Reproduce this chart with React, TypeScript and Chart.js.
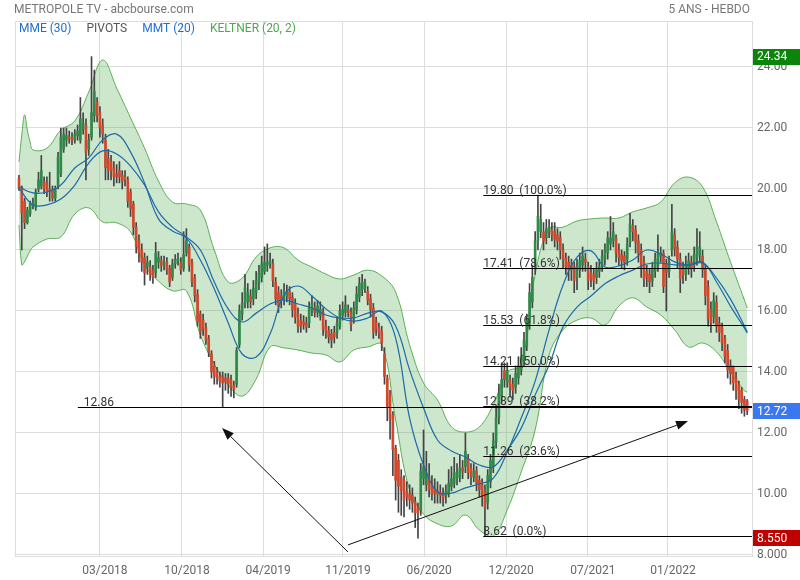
import React, { useEffect, useRef } from 'react';
import { Chart, registerables } from 'chart.js';

Chart.register(...registerables);

// ---------- weekly candles (index 0 = first week shown) ----------
const opens = [
  20.35, 20.05, 19.6, 18.9, 19.2, 19.45, 19.4, 20.0, 20.1, 20.25,
  20.2, 20.0, 19.97, 19.7, 20.1, 20.5, 21.3, 21.6, 21.7, 21.7,
  21.6, 21.75, 21.6, 21.95, 22.1, 21.3, 21.7, 22.4, 22.85, 22.5,
  22.1, 21.6, 21.0, 20.9, 20.7, 20.5, 20.6, 20.45, 20.4, 20.3,
  19.9, 19.5, 18.75, 18.3, 18.0, 17.75, 17.45, 17.45, 17.35, 17.25,
  17.6, 17.65, 17.5, 17.6, 17.4, 17.1, 17.55, 17.65, 17.6, 17.4,
  17.9, 18.1, 17.6, 17.1, 16.55, 15.9, 15.7, 15.45, 15.1, 14.6,
  14.2, 14.0, 13.85, 13.84, 13.8, 13.8, 13.75, 13.55, 13.6, 14.9,
  15.9, 16.25, 16.3, 16.5, 16.4, 16.6, 16.9, 17.1, 17.3, 17.5,
  17.55, 17.55, 16.95, 16.6, 16.5, 16.4, 16.5, 16.65, 16.45, 16.25,
  15.9, 15.7, 15.65, 15.6, 15.6, 16.0, 16.1, 15.95, 15.85, 15.95,
  15.5, 15.35, 15.25, 15.3, 15.3, 15.5, 15.85, 15.95, 16.05, 15.95,
  15.75, 16.05, 16.45, 16.7, 16.75, 16.65, 16.4, 16.1, 15.65, 15.45,
  15.35, 14.6, 13.8, 13.3, 12.6, 11.5, 11.1, 10.55, 10.45, 10.1,
  10.0, 9.95, 9.75, 9.55, 9.45, 10.5, 10.3, 10.55, 10.35, 10.2,
  10.1, 10.05, 10.0, 9.95, 10.0, 10.25, 10.35, 10.5, 10.55, 10.85,
  10.9, 11.15, 10.85, 10.55, 10.75, 10.45, 10.3, 10.1, 9.7, 10.4,
  10.9, 11.7, 12.5, 13.2, 14.05, 13.65, 13.75, 13.6, 13.5, 13.8,
  14.05, 14.4, 14.85, 15.6, 16.3, 17.45, 18.3, 18.6, 18.6, 18.4,
  18.6, 18.65, 18.6, 18.5, 18.4, 18.0, 17.75, 17.6, 17.5, 17.45,
  17.1, 17.35, 17.5, 17.7, 17.45, 17.25, 17.2, 17.1, 17.3, 17.45,
  17.7, 17.9, 18.2, 18.3, 18.4, 18.0, 17.85, 17.8, 17.7, 18.25,
  18.8, 18.65, 18.3, 18.0, 17.6, 17.3, 17.2, 17.0, 17.3, 17.5,
  17.8, 17.9, 17.55, 17.3, 18.0, 18.5, 18.1, 17.7, 17.35, 17.2,
  17.4, 17.6, 17.5, 17.75, 17.85, 17.8, 17.4, 16.8, 16.05, 15.8,
  16.3, 15.6, 15.45, 15.1, 14.7, 14.2, 14.15, 13.8, 13.6, 13.4,
  13.1, 13.05,
];
const closes = [
  20.05, 19.2, 18.9, 19.3, 19.5, 19.55, 19.9, 20.3, 20.6, 20.0,
  19.9, 19.95, 19.7, 20.0, 21.05, 21.7, 21.8, 21.75, 21.65, 21.6,
  21.8, 21.9, 22.3, 22.15, 21.2, 21.6, 22.5, 23.2, 22.4, 22.0,
  21.8, 20.7, 20.6, 20.6, 20.4, 20.4, 20.4, 20.25, 20.3, 19.6,
  19.35, 18.75, 18.1, 17.9, 17.6, 17.25, 17.6, 17.2, 17.1, 17.9,
  17.75, 17.5, 17.6, 17.35, 16.95, 17.55, 17.7, 17.7, 17.35, 17.85,
  18.3, 17.5, 16.95, 16.5, 15.65, 15.3, 15.4, 15.05, 14.65, 14.0,
  13.85, 13.8, 13.7, 13.64, 13.67, 13.62, 13.5, 13.45, 14.7, 16.0,
  16.25, 16.75, 16.6, 16.3, 16.75, 17.0, 17.25, 17.55, 17.6, 17.6,
  17.65, 17.0, 16.4, 16.15, 16.35, 16.65, 16.6, 16.4, 16.05, 15.8,
  15.5, 15.5, 15.55, 15.47, 16.1, 16.25, 15.95, 16.15, 16.05, 15.4,
  15.3, 15.15, 15.05, 15.15, 15.6, 16.0, 16.05, 16.2, 15.95, 15.55,
  16.1, 16.55, 16.9, 16.95, 16.9, 16.35, 16.05, 15.3, 15.4, 15.3,
  14.95, 13.85, 12.85, 12.45, 11.45, 10.45, 10.25, 10.1, 9.8, 9.9,
  9.8, 9.7, 9.38, 9.38, 10.75, 10.9, 10.7, 10.15, 10.0, 10.0,
  10.0, 9.95, 9.85, 10.1, 10.35, 10.5, 10.7, 10.7, 10.85, 10.75,
  11.4, 10.7, 10.55, 10.75, 10.35, 10.15, 9.9, 9.55, 10.6, 11.1,
  11.75, 12.5, 13.3, 13.75, 13.75, 14.05, 13.5, 13.4, 13.95, 14.2,
  14.5, 15.05, 15.7, 16.6, 17.1, 18.3, 19.1, 19.0, 18.3, 18.7,
  18.75, 18.5, 18.35, 18.3, 18.0, 17.7, 17.45, 17.35, 17.35, 17.0,
  17.45, 17.65, 17.8, 17.6, 17.0, 17.05, 17.0, 17.35, 17.45, 17.8,
  18.0, 18.4, 18.4, 18.6, 17.9, 17.75, 17.65, 17.6, 18.2, 18.85,
  18.6, 18.25, 17.9, 17.45, 17.05, 17.1, 16.95, 17.35, 17.7, 17.9,
  17.9, 16.8, 17.25, 17.6, 18.6, 18.05, 17.7, 17.05, 17.2, 17.5,
  17.65, 17.4, 17.85, 18.1, 18.1, 17.35, 16.5, 15.75, 15.6, 16.35,
  15.5, 15.3, 14.95, 14.5, 14.07, 13.95, 13.65, 13.4, 13.1, 13.0,
  12.75, 12.72,
];
const highs = [
  20.45, 20.1, 19.7, 19.4, 19.6, 19.7, 20.0, 20.55, 21.1, 20.4,
  20.4, 20.55, 20.1, 20.1, 21.2, 22.0, 22.0, 22.0, 21.9, 21.85,
  21.95, 22.1, 23.0, 22.5, 22.3, 21.8, 24.34, 23.9, 23.0, 22.7,
  22.3, 21.8, 21.3, 21.1, 20.9, 20.8, 20.9, 20.6, 20.6, 20.4,
  20.0, 19.6, 18.9, 18.5, 18.2, 17.9, 17.8, 17.65, 17.5, 18.25,
  17.95, 17.8, 17.8, 17.75, 17.5, 17.7, 17.85, 17.9, 17.75, 18.6,
  18.7, 18.2, 17.7, 17.2, 16.7, 16.0, 15.9, 15.6, 15.2, 14.7,
  14.35, 14.15, 14.0, 14.0, 13.95, 13.95, 13.9, 13.7, 14.8, 16.2,
  16.6, 17.2, 16.9, 16.7, 17.0, 17.3, 17.5, 17.8, 18.1, 18.2,
  17.9, 17.7, 17.1, 16.8, 16.7, 16.9, 16.85, 16.8, 16.6, 16.4,
  16.1, 15.9, 15.85, 15.8, 16.3, 16.5, 16.3, 16.35, 16.3, 16.1,
  15.7, 15.5, 15.4, 15.5, 15.8, 16.2, 16.3, 16.5, 16.2, 16.1,
  16.3, 16.8, 17.1, 17.2, 17.05, 16.8, 16.55, 16.25, 15.8, 15.6,
  15.5, 14.8, 13.9, 13.4, 12.7, 11.6, 11.3, 10.8, 10.6, 10.4,
  10.3, 10.2, 9.9, 9.7, 11.0, 12.1, 11.4, 11.0, 10.6, 10.5,
  10.4, 10.3, 10.2, 10.3, 10.8, 10.9, 11.2, 11.0, 11.3, 11.1,
  12.0, 11.3, 11.0, 11.0, 10.9, 10.6, 10.5, 10.3, 10.8, 11.3,
  12.0, 12.9, 13.6, 14.3, 14.3, 14.3, 13.9, 13.8, 14.2, 14.5,
  14.8, 15.3, 15.9, 16.9, 17.5, 18.6, 19.8, 19.5, 18.9, 19.0,
  19.0, 18.9, 18.9, 18.7, 18.6, 18.2, 17.9, 17.8, 17.7, 17.6,
  17.7, 17.9, 18.1, 17.9, 17.6, 17.5, 17.4, 17.6, 17.7, 18.0,
  18.2, 18.6, 19.1, 18.9, 18.5, 18.2, 18.0, 17.95, 18.4, 19.2,
  19.0, 18.8, 18.5, 18.2, 17.8, 17.5, 17.4, 17.6, 17.9, 18.5,
  18.1, 18.0, 17.7, 17.8, 19.5, 18.7, 18.3, 17.9, 17.6, 17.8,
  17.9, 17.8, 18.1, 18.7, 18.6, 18.0, 17.5, 17.0, 16.3, 16.6,
  16.5, 15.8, 15.6, 15.2, 14.9, 14.4, 14.2, 14.0, 13.7, 13.5,
  13.2, 13.1,
];
const lows = [
  19.95, 18.0, 18.7, 18.85, 19.1, 19.35, 19.3, 19.9, 20.0, 19.85,
  19.75, 19.6, 19.6, 19.6, 20.0, 20.4, 21.2, 21.4, 21.5, 21.45,
  21.5, 21.6, 21.5, 21.8, 20.3, 21.1, 21.6, 22.2, 22.2, 21.7,
  21.5, 20.3, 20.3, 20.3, 20.1, 20.2, 20.2, 20.0, 20.1, 19.4,
  19.1, 18.5, 17.9, 17.6, 17.3, 16.85, 17.2, 17.0, 16.9, 17.1,
  17.4, 17.3, 17.35, 17.2, 16.8, 17.0, 17.4, 17.5, 17.2, 17.3,
  17.8, 17.3, 16.8, 16.3, 15.5, 15.1, 15.2, 14.9, 14.5, 13.8,
  13.6, 13.6, 13.5, 12.86, 13.4, 13.3, 13.2, 13.15, 13.5, 14.8,
  15.7, 16.1, 16.1, 16.1, 16.2, 16.4, 16.7, 16.95, 17.2, 17.3,
  17.4, 16.8, 16.2, 15.95, 16.1, 16.2, 16.3, 16.2, 15.8, 15.6,
  15.3, 15.3, 15.4, 15.3, 15.45, 15.85, 15.8, 15.8, 15.7, 15.2,
  15.1, 14.95, 14.8, 14.95, 15.1, 15.4, 15.7, 15.8, 15.8, 15.35,
  15.6, 15.9, 16.3, 16.5, 16.6, 16.2, 15.8, 15.1, 15.2, 15.1,
  14.7, 13.6, 12.4, 11.8, 10.6, 9.8, 9.4, 9.3, 9.25, 9.6,
  9.5, 9.4, 8.9, 8.55, 9.3, 10.3, 10.1, 9.9, 9.8, 9.7,
  9.7, 9.7, 9.6, 9.7, 9.9, 10.1, 10.2, 10.3, 10.4, 10.5,
  10.7, 10.5, 10.3, 10.4, 10.1, 9.9, 9.6, 8.62, 9.5, 10.2,
  10.7, 11.5, 12.3, 13.0, 13.5, 13.5, 13.2, 13.1, 13.3, 13.6,
  13.9, 14.2, 14.7, 15.4, 16.1, 17.2, 18.0, 18.4, 18.0, 18.2,
  18.4, 18.3, 18.1, 18.0, 17.7, 17.4, 17.2, 17.0, 17.0, 16.6,
  16.7, 17.1, 17.3, 17.3, 16.7, 16.8, 16.7, 16.9, 17.1, 17.3,
  17.5, 17.7, 18.0, 18.1, 17.6, 17.5, 17.4, 17.35, 17.5, 18.1,
  18.3, 17.9, 17.6, 17.1, 16.8, 16.8, 16.6, 16.8, 17.1, 17.3,
  17.6, 16.6, 16.0, 17.1, 17.8, 17.8, 17.4, 16.6, 16.9, 17.0,
  17.2, 17.1, 17.3, 17.5, 17.6, 17.1, 16.2, 15.5, 15.3, 15.6,
  15.3, 15.0, 14.7, 14.3, 13.8, 13.6, 13.4, 13.1, 12.8, 12.65,
  12.55, 12.6,
];

// ---------- axes ----------
const xTickPositions = [29, 58.4, 87.5, 116.1, 145.2, 174.6, 203.9, 232.6];
const xTickLabels = ['03/2018', '10/2018', '04/2019', '11/2019', '06/2020', '12/2020', '07/2021', '01/2022'];
const yTickValues = [8, 10, 12, 14, 16, 18, 20, 22, 24];

// ---------- Keltner (20, 2) channel, read at these week indices ----------
const keltnerIdx = [
  0, 1, 2, 3, 4, 5, 10, 15, 20, 25, 30, 35, 40, 45, 50, 55, 60, 65, 70, 75,
  80, 85, 90, 95, 100, 105, 110, 115, 120, 125, 130, 135, 140, 145, 150, 155, 160, 165, 170, 175,
  180, 185, 190, 195, 200, 205, 210, 215, 220, 225, 230, 235, 240, 245, 250, 255, 260, 261,
];
const keltnerUpper = [
  20.89, 21.77, 22.43, 21.93, 21.54, 21.28, 21.34, 21.93, 22.23, 23.18, 24.23, 23.31, 22.33, 21.34, 20.26, 19.57, 19.51, 19.31, 18.0, 16.95,
  17.08, 17.77, 18.07, 18.07, 17.67, 17.44, 17.21, 17.05, 17.18, 17.34, 17.15, 16.62, 14.89, 13.64, 13.08, 12.2, 12.03, 12.2, 12.92, 14.0,
  14.23, 17.2, 18.69, 18.75, 18.95, 19.02, 19.05, 19.05, 19.25, 19.38, 19.57, 20.2, 20.39, 20.07, 18.92, 17.61, 16.36, 16.1,
];
const keltnerLower = [
  18.82, 17.51, 17.61, 17.8, 17.97, 18.1, 18.36, 18.43, 19.18, 19.38, 18.92, 18.89, 18.59, 17.51, 16.98, 16.66, 16.66, 15.21, 14.26, 13.57,
  13.21, 13.77, 14.82, 14.79, 14.72, 14.62, 14.56, 14.33, 14.72, 14.82, 14.89, 12.43, 10.13, 9.34, 9.02, 8.95, 9.31, 8.82, 8.62, 9.48,
  10.72, 12.1, 14.56, 15.38, 15.7, 15.77, 15.54, 16.16, 16.43, 16.13, 15.87, 15.38, 14.82, 14.95, 14.66, 14.0, 13.38, 13.34,
];

// ---------- moving averages, read at these week indices ----------
const maIdx = [
  0, 5, 10, 15, 20, 25, 30, 35, 40, 45, 50, 55, 60, 65, 70, 75, 80, 85, 90, 95,
  100, 105, 110, 115, 120, 125, 130, 135, 140, 145, 150, 155, 160, 165, 170, 175, 180, 185, 190, 195,
  200, 205, 210, 215, 220, 225, 230, 235, 240, 245, 250, 255, 260, 261,
];
const mmt20 = [
  20.07, 19.87, 19.9, 20.13, 20.69, 21.02, 21.61, 21.8, 21.21, 20.2, 19.02, 18.62, 18.39, 17.67, 16.72, 15.61, 14.59, 14.49, 15.25, 16.52,
  16.82, 16.49, 16.07, 15.77, 15.67, 15.77, 16.0, 15.11, 12.49, 10.95, 10.07, 10.03, 10.2, 10.33, 10.52, 11.38, 12.49, 13.7, 15.38, 16.85,
  17.77, 17.97, 17.44, 17.48, 17.67, 18.0, 17.87, 17.61, 17.51, 17.61, 16.95, 16.16, 15.44, 15.28,
];
const mme30 = [
  20.03, 19.48, 19.48, 19.67, 20.13, 20.85, 21.25, 21.15, 20.75, 20.13, 19.25, 18.75, 18.43, 18.0, 16.95, 16.07, 15.64, 15.93, 16.23, 16.36,
  16.23, 16.1, 15.87, 15.77, 15.77, 15.93, 15.97, 15.51, 14.07, 12.82, 11.77, 11.41, 11.21, 10.95, 10.89, 11.44, 12.16, 13.25, 14.23, 15.48,
  16.13, 16.49, 16.89, 17.15, 17.34, 17.54, 17.57, 17.51, 17.51, 17.57, 17.08, 16.39, 15.51, 15.31,
];

// ---------- annotations ----------
const fibValues = [19.8, 17.41, 15.53, 14.21, 12.89, 11.26, 8.62];
const fibLabels = ['100.0%', '78.6%', '61.8%', '50.0%', '38.2%', '23.6%', '0.0%'];
const fibStartIdx = 166.4;
const pivotValue = 12.86;
const pivotStartIdx = 21.1;
const arrowFromIdx = [117.9, 117.9];
const arrowFromVal = [8.1, 8.33];
const arrowToIdx = [72.8, 239.8];
const arrowToVal = [12.16, 12.39];
const markerValues = [24.34, 12.72, 8.55];
const markerTexts = ['24.34', '12.72', '8.550'];
const markerColors = ['#0a840a', '#3a78f2', '#c00000'];
const legendTexts = ['MME (30)', 'PIVOTS', 'MMT (20)', 'KELTNER (20, 2)'];
const legendColors = ['#1f6fd0', '#555555', '#1f6fd0', '#4caa4c'];

const FONT = 'Roboto, "Noto Sans", sans-serif';
const UP = '#2f8a48';
const DOWN = '#d2482c';
const BLUE = '#1c6aa8';

const overlayPlugin = {
  id: 'overlay',
  beforeDatasetsDraw(chart: any) {
    const { ctx, chartArea: a } = chart;
    ctx.save();
    ctx.strokeStyle = '#dddddd';
    ctx.lineWidth = 1;
    ctx.beginPath();
    ctx.moveTo(a.left + 0.5, a.bottom);
    ctx.lineTo(a.left + 0.5, a.top + 0.5);
    ctx.lineTo(a.right, a.top + 0.5);
    ctx.stroke();
    ctx.restore();
  },
  afterDatasetsDraw(chart: any) {
    const { ctx, chartArea: a } = chart;
    const x = chart.scales.x;
    const y = chart.scales.y;
    ctx.save();
    ctx.strokeStyle = '#000';
    ctx.lineWidth = 1;
    ctx.fillStyle = '#333';
    ctx.font = `12px ${FONT}`;
    ctx.textAlign = 'left';
    ctx.textBaseline = 'alphabetic';
    const hline = (x0: number, yy: number) => {
      ctx.beginPath();
      ctx.moveTo(x0, yy);
      ctx.lineTo(a.right, yy);
      ctx.stroke();
    };
    const pY = Math.round(y.getPixelForValue(pivotValue)) + 0.5;
    const pX = x.getPixelForValue(pivotStartIdx);
    hline(pX, pY);
    ctx.fillText(pivotValue.toFixed(2), pX + 6, pY - 2);
    const fX = x.getPixelForValue(fibStartIdx);
    fibValues.forEach((v, i) => {
      const fy = Math.round(y.getPixelForValue(v)) + 0.5;
      hline(fX, fy);
      ctx.fillText(`${v.toFixed(2)}  (${fibLabels[i]})`, fX, fy - 2);
    });
    ctx.strokeStyle = '#111';
    ctx.fillStyle = '#111';
    arrowFromIdx.forEach((fi, k) => {
      const x1 = x.getPixelForValue(fi);
      const y1 = y.getPixelForValue(arrowFromVal[k]);
      const x2 = x.getPixelForValue(arrowToIdx[k]);
      const y2 = y.getPixelForValue(arrowToVal[k]);
      const ang = Math.atan2(y2 - y1, x2 - x1);
      const L = 12, W = 4.5;
      const bx = x2 - L * Math.cos(ang), by = y2 - L * Math.sin(ang);
      ctx.beginPath();
      ctx.moveTo(x1, y1);
      ctx.lineTo(bx, by);
      ctx.stroke();
      ctx.beginPath();
      ctx.moveTo(x2, y2);
      ctx.lineTo(bx + W * Math.sin(ang), by - W * Math.cos(ang));
      ctx.lineTo(bx - W * Math.sin(ang), by + W * Math.cos(ang));
      ctx.closePath();
      ctx.fill();
    });
    ctx.restore();
  },
  afterDraw(chart: any) {
    const { ctx, chartArea: a } = chart;
    const y = chart.scales.y;
    ctx.save();
    ctx.font = `12px ${FONT}`;
    ctx.textBaseline = 'middle';
    markerValues.forEach((v, i) => {
      const cy = y.getPixelForValue(v);
      ctx.fillStyle = markerColors[i];
      ctx.fillRect(a.right + 1, Math.round(cy - 8), 800 - a.right - 1, 16);
      ctx.fillStyle = '#fff';
      ctx.textAlign = 'left';
      ctx.fillText(markerTexts[i], a.right + 5, cy + 0.5);
    });
    ctx.fillStyle = '#777';
    ctx.textAlign = 'left';
    ctx.fillText('METROPOLE TV - abcbourse.com', 14, 10);
    ctx.textAlign = 'right';
    ctx.fillText('5 ANS - HEBDO', 750, 10);
    ctx.textAlign = 'left';
    let lx = a.left + 4;
    legendTexts.forEach((t, i) => {
      ctx.fillStyle = legendColors[i];
      ctx.fillText(t, lx, 29);
      lx += ctx.measureText(t).width + 15;
    });
    ctx.restore();
  },
};

export default function App() {
  const ref = useRef<HTMLCanvasElement>(null);
  useEffect(() => {
    if (!ref.current) return;
    Chart.defaults.font.family = FONT;
    const idx = opens.map((_, i) => i);
    const chart = new Chart(ref.current, {
      type: 'bar',
      data: {
        datasets: [
          {
            type: 'line',
            label: 'KELTNER haut',
            data: keltnerIdx.map((k, i) => ({ x: k, y: keltnerUpper[i] })),
            borderColor: '#5cae55',
            borderWidth: 1,
            backgroundColor: 'rgba(76,168,76,0.28)',
            pointRadius: 0,
            tension: 0.4,
            fill: '+1',
            order: 5,
          },
          {
            type: 'line',
            label: 'KELTNER bas',
            data: keltnerIdx.map((k, i) => ({ x: k, y: keltnerLower[i] })),
            borderColor: '#5cae55',
            borderWidth: 1,
            pointRadius: 0,
            tension: 0.4,
            fill: false,
            order: 4,
          },
          {
            type: 'line',
            label: 'MME (30)',
            data: maIdx.map((k, i) => ({ x: k, y: mme30[i] })),
            borderColor: BLUE,
            borderWidth: 1.2,
            pointRadius: 0,
            tension: 0.4,
            fill: false,
            order: 0,
          },
          {
            type: 'line',
            label: 'MMT (20)',
            data: maIdx.map((k, i) => ({ x: k, y: mmt20[i] })),
            borderColor: BLUE,
            borderWidth: 1.2,
            pointRadius: 0,
            tension: 0.4,
            fill: false,
            order: 0,
          },
          {
            type: 'bar',
            label: 'mèches',
            data: idx.map((i) => ({ x: i, y: [lows[i], highs[i]] })) as any,
            backgroundColor: '#444444',
            barThickness: 1,
            grouped: false,
            order: 2,
          },
          {
            type: 'bar',
            label: 'corps',
            data: idx.map((i) => ({ x: i, y: [Math.min(opens[i], closes[i]), Math.max(opens[i], closes[i])] })) as any,
            backgroundColor: idx.map((i) => (closes[i] >= opens[i] ? UP : DOWN)),
            barThickness: 2,
            minBarLength: 1,
            grouped: false,
            order: 1,
          },
        ] as any,
      },
      options: {
        animation: false,
        responsive: false,
        maintainAspectRatio: false,
        layout: { padding: { left: 15, top: 21, right: 0, bottom: 0 } },
        plugins: { legend: { display: false }, tooltip: { enabled: false } },
        scales: {
          x: {
            type: 'linear',
            min: -1.43,
            max: 262.72,
            offset: false,
            bounds: 'data',
            grid: { color: '#dddddd', offset: false, drawTicks: false },
            border: { color: '#dddddd' },
            afterBuildTicks: (scale: any) => {
              scale.ticks = xTickPositions.map((v) => ({ value: v }));
            },
            afterFit: (scale: any) => {
              scale.height = 24;
            },
            ticks: {
              autoSkip: false,
              maxRotation: 0,
              labelOffset: 5,
              padding: 8,
              color: '#666',
              font: { size: 12, family: FONT },
              callback: (_v: any, i: number) => xTickLabels[i],
            },
          },
          y: {
            type: 'linear',
            position: 'right',
            min: 7.967,
            max: 25.508,
            beginAtZero: false,
            bounds: 'data',
            grid: { color: '#dddddd', drawTicks: false },
            border: { color: '#dddddd' },
            afterBuildTicks: (scale: any) => {
              scale.ticks = yTickValues.map((v) => ({ value: v }));
            },
            afterFit: (scale: any) => {
              scale.width = 48;
            },
            ticks: {
              padding: 5,
              color: '#666',
              font: { size: 12, family: FONT },
              callback: (v: any) => (Number(v) === 8 ? '8.000' : Number(v).toFixed(2)),
            },
          },
        },
      } as any,
      plugins: [overlayPlugin],
    });
    return () => chart.destroy();
  }, []);
  return (
    <div style={{ position: 'absolute', left: 0, top: 0, width: 800, height: 580, background: '#fff' }}>
      <canvas ref={ref} width={800} height={580} style={{ display: 'block' }} />
    </div>
  );
}
